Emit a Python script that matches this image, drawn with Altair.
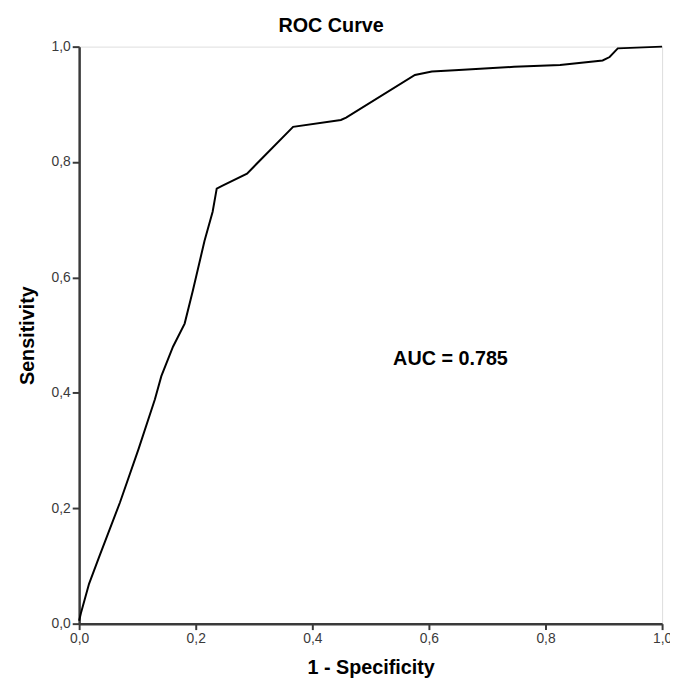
import altair as alt
import pandas as pd

fpr = [0.0, 0.003, 0.017, 0.034, 0.07, 0.102, 0.130, 0.141, 0.161, 0.181, 0.195, 0.215,
       0.229, 0.236, 0.246, 0.288, 0.367, 0.449, 0.458, 0.576, 0.605, 0.644, 0.746,
       0.825, 0.898, 0.910, 0.924, 1.0]
tpr = [0.005, 0.018, 0.069, 0.115, 0.21, 0.303, 0.389, 0.429, 0.480, 0.520, 0.577, 0.663,
       0.714, 0.754, 0.759, 0.780, 0.861, 0.873, 0.877, 0.951, 0.957, 0.959, 0.965,
       0.968, 0.976, 0.982, 0.997, 1.0]
ticks = [0.0, 0.2, 0.4, 0.6, 0.8, 1.0]
auc_label = ["AUC = 0.785"]
auc_pos_x = [0.637]
auc_pos_y = [0.458]

df = pd.DataFrame({"fpr": fpr, "tpr": tpr, "order": list(range(len(fpr)))})
df_auc = pd.DataFrame({"x": auc_pos_x, "y": auc_pos_y, "label": auc_label})

FONT = "Liberation Sans"
label_expr = "replace(format(datum.value, '.1f'), '.', ',')"

xscale = alt.Scale(domain=[0, 1], nice=False, zero=False)
yscale = alt.Scale(domain=[0, 1], nice=False, zero=False)

line = alt.Chart(df).mark_line(color="black", strokeWidth=2).encode(
    x=alt.X("fpr:Q", scale=xscale, title="1 - Specificity",
            axis=alt.Axis(values=ticks, labelExpr=label_expr, grid=False,
                          domainColor="#3a3a3a", domainWidth=2.5,
                          tickColor="#3a3a3a", tickWidth=2, tickSize=6,
                          labelFont=FONT, labelFontSize=14, labelColor="#3a3a3a",
                          labelPadding=2, labelFlush=False,
                          titleFont=FONT, titleFontSize=20, titleFontWeight="bold",
                          titleColor="black", titlePadding=12)),
    y=alt.Y("tpr:Q", scale=yscale, title="Sensitivity",
            axis=alt.Axis(values=ticks, labelExpr=label_expr, grid=False,
                          domainColor="#3a3a3a", domainWidth=2.5,
                          tickColor="#3a3a3a", tickWidth=2, tickSize=7,
                          labelFont=FONT, labelFontSize=14, labelColor="#3a3a3a",
                          labelPadding=2, labelFlush=False,
                          titleFont=FONT, titleFontSize=20, titleFontWeight="bold",
                          titleColor="black", titlePadding=14)),
    order="order:Q",
)

text = alt.Chart(df_auc).mark_text(font=FONT, fontSize=20, fontWeight="bold",
                                   color="black", baseline="middle").encode(
    x=alt.X("x:Q", scale=xscale),
    y=alt.Y("y:Q", scale=yscale),
    text="label:N",
)

chart = (line + text).properties(
    width=590,
    height=584,
    autosize=alt.AutoSizeParams(type="none"),
    padding={"left": 72, "top": 35, "right": 8, "bottom": 60},
    title=alt.TitleParams("ROC Curve", font=FONT, fontSize=20, fontWeight="bold",
                          color="black", anchor="middle", dx=-40, offset=4,
                          frame="group"),
).configure_view(stroke="#666", strokeWidth=2.5).configure(background="white")

chart.save("out.html", embed_options={"renderer": "svg", "actions": False})
